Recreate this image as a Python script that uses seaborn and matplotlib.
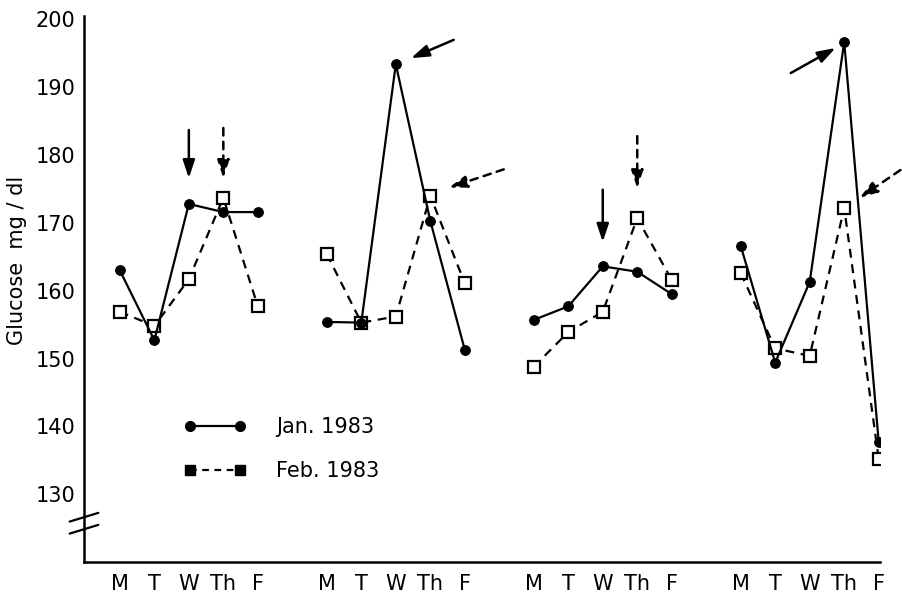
import numpy as np
import pandas as pd
import matplotlib
matplotlib.use("Agg")
import matplotlib.pyplot as plt
import seaborn as sns
from matplotlib.lines import Line2D

# ---- data ----
days = ["M", "T", "W", "Th", "F"]
weeks = [1, 2, 3, 4]
jan_1983 = [163.0, 152.7, 172.8, 171.6, 171.6,
            155.4, 155.3, 193.4, 170.3, 151.3,
            155.7, 157.7, 163.6, 162.8, 159.5,
            166.6, 149.4, 161.3, 196.7, 137.7]
feb_1983 = [156.9, 154.8, 161.7, 173.7, 157.7,
            165.4, 155.3, 156.2, 174.0, 161.1,
            148.8, 153.9, 156.9, 170.7, 161.6,
            162.6, 151.5, 150.4, 172.2, 135.2]
y_ticks = [130, 140, 150, 160, 170, 180, 190, 200]

# positions: each week is 5 days with a 1-slot gap between weeks
pos = [w_i * 6 + d_i for w_i in range(len(weeks)) for d_i in range(len(days))]
week_col = [w for w in weeks for _ in days]
day_col = [d for _ in weeks for d in days]

df_jan = pd.DataFrame({"pos": pos, "glucose": jan_1983, "week": week_col, "day": day_col})
df_feb = pd.DataFrame({"pos": pos, "glucose": feb_1983, "week": week_col, "day": day_col})

sns.set_theme(style="white")
plt.rcParams["font.family"] = ["DejaVu Sans"]
plt.rcParams["text.color"] = "black"

fig = plt.figure(figsize=(9.03, 6.12), dpi=100)
ax = fig.add_axes([0.093, 0.0817, 0.882, 0.892])

sns.lineplot(data=df_feb, x="pos", y="glucose", units="week", estimator=None,
             color="black", linestyle=(0, (4, 3)), linewidth=1.6,
             marker="s", markersize=8, markerfacecolor="white",
             markeredgecolor="black", markeredgewidth=1.6, ax=ax, zorder=3)
sns.lineplot(data=df_jan, x="pos", y="glucose", units="week", estimator=None,
             color="black", linestyle="-", linewidth=1.6,
             marker="o", markersize=7, markerfacecolor="black",
             markeredgecolor="black", ax=ax, zorder=4)

ax.set_xlim(-1.04, 22.05)
ax.set_ylim(120, 200.5)

ax.set_xticks(pos)
ax.set_xticklabels(day_col, fontsize=15)
ax.set_yticks(y_ticks)
ax.set_yticklabels([str(v) for v in y_ticks], fontsize=15)
ax.tick_params(axis="both", direction="in", length=11, width=1.6, colors="black")
ax.tick_params(axis="x", pad=9)
ax.tick_params(axis="y", pad=6)

for s in ["top", "right"]:
    ax.spines[s].set_visible(False)
for s in ["left", "bottom"]:
    ax.spines[s].set_color("black")
    ax.spines[s].set_linewidth(1.8)

ax.set_xlabel("")
ax.set_ylabel("Glucose  mg / dl", fontsize=15, color="black")
ax.yaxis.set_label_coords(-0.072, 0.553)

# axis break marks
trans = ax.transAxes
for yb in (0.082, 0.060):
    ax.plot([-0.018, 0.018], [yb - 0.008, yb + 0.008], transform=trans,
            color="black", lw=1.6, clip_on=False)

# arrows
def arrow(xy_from, xy_to, dashed):
    ax.annotate("", xy=xy_to, xytext=xy_from, annotation_clip=False,
                arrowprops=dict(arrowstyle="-|>,head_length=0.9,head_width=0.3",
                                color="black", lw=1.8,
                                linestyle=(0, (3, 2.5)) if dashed else "-",
                                shrinkA=0, shrinkB=0))

arrow((2, 183.7), (2, 176.6), False)
arrow((3, 184.0), (3, 176.6), True)
arrow((9.68, 197.0), (8.44, 194.3), False)
arrow((11.13, 177.9), (9.54, 175.2), True)
arrow((14, 174.9), (14, 167.2), False)
arrow((15, 182.8), (15, 175.1), True)
arrow((19.45, 192.1), (20.75, 195.8), False)
arrow((22.63, 177.8), (21.45, 173.7), True)

# legend
handles = [
    Line2D([0], [0], color="black", lw=1.6, marker="o", markersize=7),
    Line2D([0], [0], color="black", lw=1.6, linestyle=(0, (3, 2.5)),
           marker="s", markersize=7, markerfacecolor="black"),
]
leg = ax.legend(handles, ["Jan. 1983", "Feb. 1983"], loc="upper left",
                bbox_to_anchor=(0.102, 0.30), frameon=False, fontsize=15,
                numpoints=2, handlelength=3.0, handletextpad=1.4, labelspacing=1.15)
for t in leg.get_texts():
    t.set_color("black")

fig.savefig("out.png", dpi=100, facecolor="white")
